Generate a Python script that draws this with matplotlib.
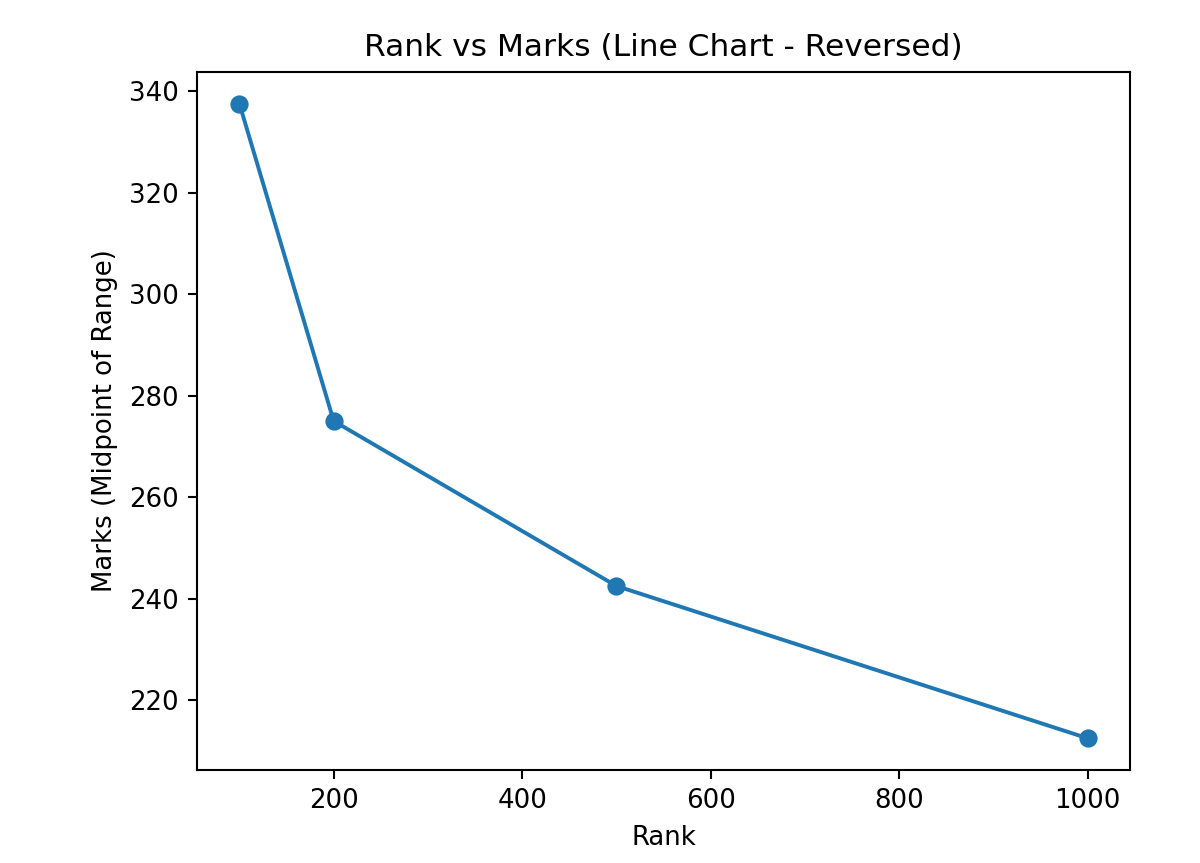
import matplotlib
matplotlib.use("Agg")
import matplotlib.pyplot as plt

ranks = [100, 200, 500, 1000]
marks = [337.5, 275, 242.5, 212.5]

fig = plt.figure(figsize=(6.4, 863 / 187.5), dpi=187.5)
ax = fig.add_axes([197 / 1200, 1 - 770 / 863, (1130 - 197) / 1200, (770 - 72) / 863])

ax.plot(ranks, marks, marker="o")
ax.set_title("Rank vs Marks (Line Chart - Reversed)")
ax.set_xlabel("Rank")
ax.set_ylabel("Marks (Midpoint of Range)")

fig.savefig("out.png", dpi=187.5)
